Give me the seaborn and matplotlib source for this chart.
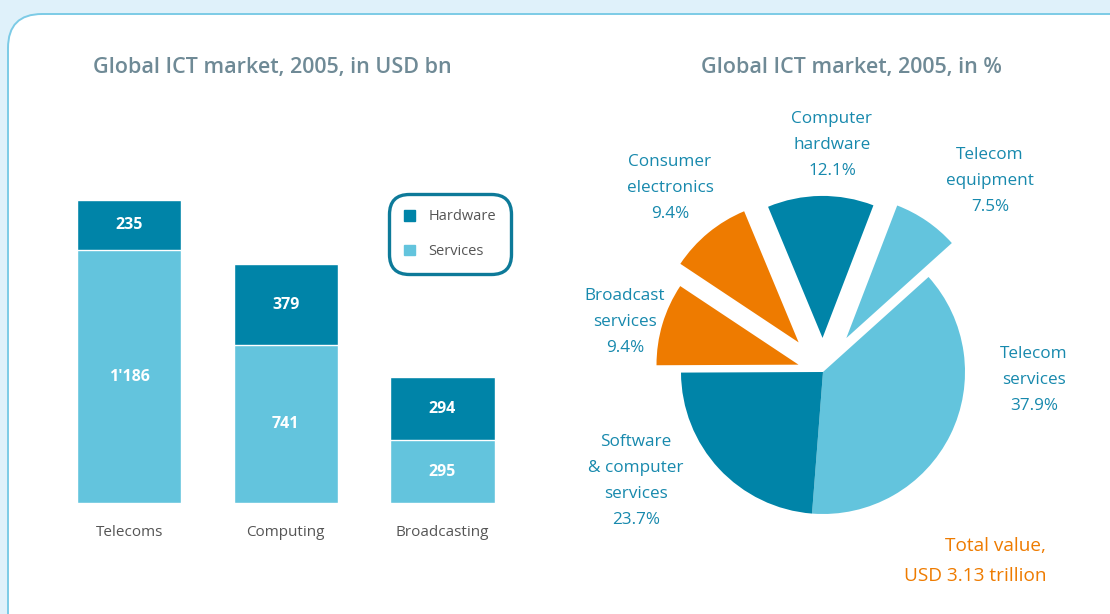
import matplotlib
matplotlib.use("Agg")
import matplotlib.pyplot as plt
import seaborn as sns
import pandas as pd
from matplotlib.patches import FancyBboxPatch, Patch

# bar chart data (USD bn)
segments = ["Telecoms", "Computing", "Broadcasting"]
hardware = [235, 379, 294]
services = [1186, 741, 295]
hardware_labels = ["235", "379", "294"]
services_labels = ["1'186", "741", "295"]

# pie chart data (%)
pie_labels = [
    "Telecom\nservices\n37.9%",
    "Software\n& computer\nservices\n23.7%",
    "Broadcast\nservices\n9.4%",
    "Consumer\nelectronics\n9.4%",
    "Computer\nhardware\n12.1%",
    "Telecom\nequipment\n7.5%",
]
pie_shares = [37.9, 23.7, 9.4, 9.4, 12.1, 7.5]

DARK = "#0084a8"
LIGHT = "#63c4dd"
ORANGE = "#ee7b00"
TITLE_GREY = "#6f8a96"
LABEL_BLUE = "#1789ad"
TEXT_GREY = "#555555"

sns.set_theme(style="white")
plt.rcParams["font.family"] = ["Open Sans", "DejaVu Sans"]

fig = plt.figure(figsize=(11.1, 6.14), dpi=100)
fig.patch.set_facecolor("#dff1fa")

# white rounded panel drawn in pixel units
bg = fig.add_axes([0, 0, 1, 1])
bg.set_xlim(0, 1110)
bg.set_ylim(614, 0)
bg.axis("off")
bg.add_patch(FancyBboxPatch(
    (8, 14), 1160, 660,
    boxstyle="round,pad=0,rounding_size=34",
    facecolor="white",
    edgecolor="#7ccbe6",
    linewidth=1.4
))

# ---- stacked bars ----
df = pd.DataFrame({
    "segment": segments,
    "hardware": hardware,
    "services": services,
})
df["total"] = df["hardware"] + df["services"]

ax = fig.add_axes([50.75 / 1110, 111 / 614, 470 / 1110, 341 / 614])
ax.patch.set_alpha(0)

sns.barplot(
    data=df, x="segment", y="total",
    color=DARK, saturation=1, width=0.665, ax=ax
)
sns.barplot(
    data=df, x="segment", y="services",
    color=LIGHT, saturation=1, width=0.665, ax=ax
)

for i, row in df.iterrows():
    ax.text(i, row["services"] / 2, services_labels[i],
            ha="center", va="center", color="white",
            fontsize=11.5, fontweight="bold")
    ax.text(i, row["services"] + row["hardware"] / 2, hardware_labels[i],
            ha="center", va="center", color="white",
            fontsize=11.5, fontweight="bold")

ax.set_xlim(-0.5, 2.5)
ax.set_ylim(0, 1600)
ax.set_xlabel("")
ax.set_ylabel("")
ax.set_yticks([])
ax.tick_params(axis="x", length=0, pad=16, labelsize=11, labelcolor=TEXT_GREY)
sns.despine(ax=ax, left=True, bottom=True)

leg = ax.legend(
    handles=[Patch(color=DARK, label="Hardware"),
             Patch(color=LIGHT, label="Services")],
    loc="upper left",
    bbox_to_anchor=(389 / 1110, 1 - 194 / 614),
    bbox_transform=fig.transFigure,
    frameon=True, fancybox=True, framealpha=1,
    fontsize=10.5, labelcolor=TEXT_GREY,
    handlelength=0.75, handleheight=0.75, handletextpad=0.9,
    labelspacing=1.35, borderpad=1.05, borderaxespad=0,
)
leg.get_frame().set_edgecolor("#0d7a99")
leg.get_frame().set_linewidth(2.4)
leg.get_frame().set_boxstyle("round,pad=0,rounding_size=1.4")

fig.text(272 / 1110, 1 - 67 / 614, "Global ICT market, 2005, in USD bn",
         ha="center", va="center", fontsize=15.5, fontweight="semibold",
         color=TITLE_GREY)

# ---- pie ----
R = 142.0
cx, cy = 823.0, 372.0
pax = fig.add_axes([560 / 1110, 14 / 614, 550 / 1110, 510 / 614])
pax.patch.set_alpha(0)

pie_colors = [LIGHT, DARK, ORANGE, ORANGE, DARK, LIGHT]
explode = [0, 0, 0.18, 0.27, 0.24, 0.29]
pax.pie(
    pie_shares, colors=pie_colors, explode=explode,
    startangle=42, counterclock=False, radius=1,
    wedgeprops=dict(linewidth=0)
)
pax.set_xlim((560 - cx) / R, (1110 - cx) / R)
pax.set_ylim((cy - 600) / R, (cy - 90) / R)
pax.set_aspect("equal", adjustable="box")
pax.axis("off")

label_pos = [
    (1034, 380),
    (636, 481),
    (625, 322),
    (670, 188),
    (832, 145),
    (990, 181),
]
for text, (px, py) in zip(pie_labels, label_pos):
    pax.text((px - cx) / R, (cy - py) / R, text,
             ha="center", va="center", color=LABEL_BLUE,
             fontsize=12.3, linespacing=1.85)

pax.text((1046 - cx) / R, (cy - 561) / R, "Total value,\nUSD 3.13 trillion",
         ha="right", va="center", multialignment="right",
         color=ORANGE, fontsize=13.7, linespacing=1.85)

fig.text(851 / 1110, 1 - 67 / 614, "Global ICT market, 2005, in %",
         ha="center", va="center", fontsize=15.5, fontweight="semibold",
         color=TITLE_GREY)

fig.savefig("out.png", dpi=100, facecolor=fig.get_facecolor())
